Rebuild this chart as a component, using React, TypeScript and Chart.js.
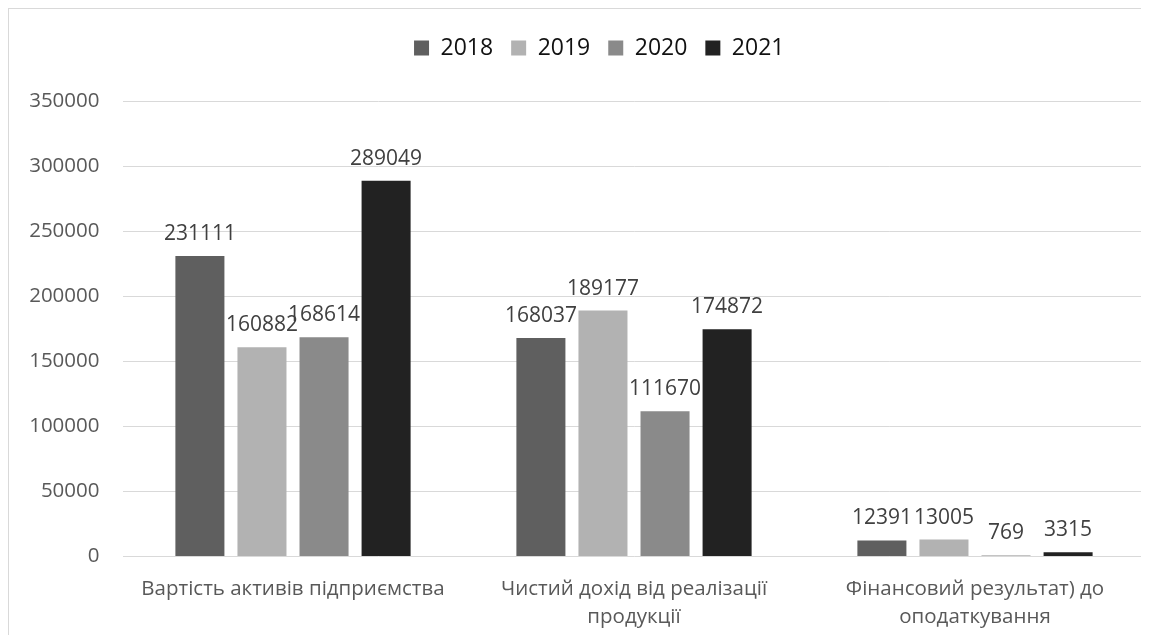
import React, { useEffect, useRef } from "react";
import { Chart, registerables } from "chart.js";

Chart.register(...registerables);

const categories: string[][] = [
  ["Вартість активів підприємства"],
  ["Чистий дохід від реалізації", "продукції"],
  ["Фінансовий результат) до", "оподаткування"],
];
const years = ["2018", "2019", "2020", "2021"];
const v2018 = [231111, 168037, 12391];
const v2019 = [160882, 189177, 13005];
const v2020 = [168614, 111670, 769];
const v2021 = [289049, 174872, 3315];
const colors = ["#5f5f5f", "#b2b2b2", "#8a8a8a", "#222222"];
const yMax = 350000;
const yStep = 50000;

const FONT = "'Open Sans', 'Noto Sans', sans-serif";

const valueLabels = {
  id: "valueLabels",
  afterDatasetsDraw(chart: any) {
    const ctx = chart.ctx;
    ctx.save();
    ctx.font = `21px ${FONT}`;
    ctx.fillStyle = "#404040";
    ctx.textAlign = "center";
    ctx.textBaseline = "middle";
    chart.data.datasets.forEach((ds: any, di: number) => {
      const meta = chart.getDatasetMeta(di);
      meta.data.forEach((el: any, i: number) => {
        ctx.fillText(String(ds.data[i]), el.x, el.y - 22);
      });
    });
    ctx.restore();
  },
};

// shift the legend block slightly right, as in the reference
const legendShift = {
  id: "legendShift",
  afterLayout(chart: any) {
    const l = chart.legend;
    if (l) {
      l.left += 22;
      l.right += 22;
    }
  },
};

export default function App() {
  const ref = useRef<HTMLCanvasElement | null>(null);
  useEffect(() => {
    if (!ref.current) return;
    const series = [v2018, v2019, v2020, v2021];
    const chart = new Chart(ref.current, {
      type: "bar",
      data: {
        labels: categories,
        datasets: years.map((y, i) => ({
          label: y,
          data: series[i],
          backgroundColor: colors[i],
          borderWidth: 0,
          categoryPercentage: 0.728,
          barPercentage: 0.79,
        })),
      },
      options: {
        animation: false,
        responsive: true,
        maintainAspectRatio: false,
        layout: { padding: { top: 9.5, left: 0, right: 1.5, bottom: 0 } },
        plugins: {
          legend: {
            position: "top",
            labels: {
              boxWidth: 15,
              boxHeight: 15,
              padding: 18,
              color: "#111111",
              font: { family: FONT, size: 23 },
            },
          },
          title: {
            display: true,
            text: "",
            weight: 500,
            font: { size: 10, lineHeight: 1 },
            padding: { top: 0, bottom: 22 },
          } as any,
          tooltip: { enabled: false },
        },
        scales: {
          x: {
            grid: { display: false, drawTicks: false },
            border: { display: false },
            ticks: {
              color: "#595959",
              padding: 18,
              font: { family: FONT, size: 20.5, lineHeight: 1.4 },
              maxRotation: 0,
              autoSkip: false,
            },
            afterFit(scale: any) {
              scale.height = 78.5;
            },
          },
          y: {
            min: 0,
            max: yMax,
            grid: { color: "#d9d9d9", lineWidth: 1, drawTicks: false },
            border: { display: false },
            ticks: {
              stepSize: yStep,
              color: "#595959",
              padding: 23,
              font: { family: FONT, size: 20.5 },
              callback: (v: any) => String(v),
            },
            afterFit(scale: any) {
              scale.width = 113.5;
            },
          },
        },
      },
      plugins: [valueLabels, legendShift],
    });
    return () => chart.destroy();
  }, []);

  return (
    <div
      style={{
        width: 1138,
        height: 626,
        border: "1px solid #d9d9d9",
        borderBottom: "none",
        background: "#ffffff",
      }}
    >
      <div style={{ position: "relative", width: 1138, height: 626 }}>
        <canvas ref={ref} />
      </div>
    </div>
  );
}
